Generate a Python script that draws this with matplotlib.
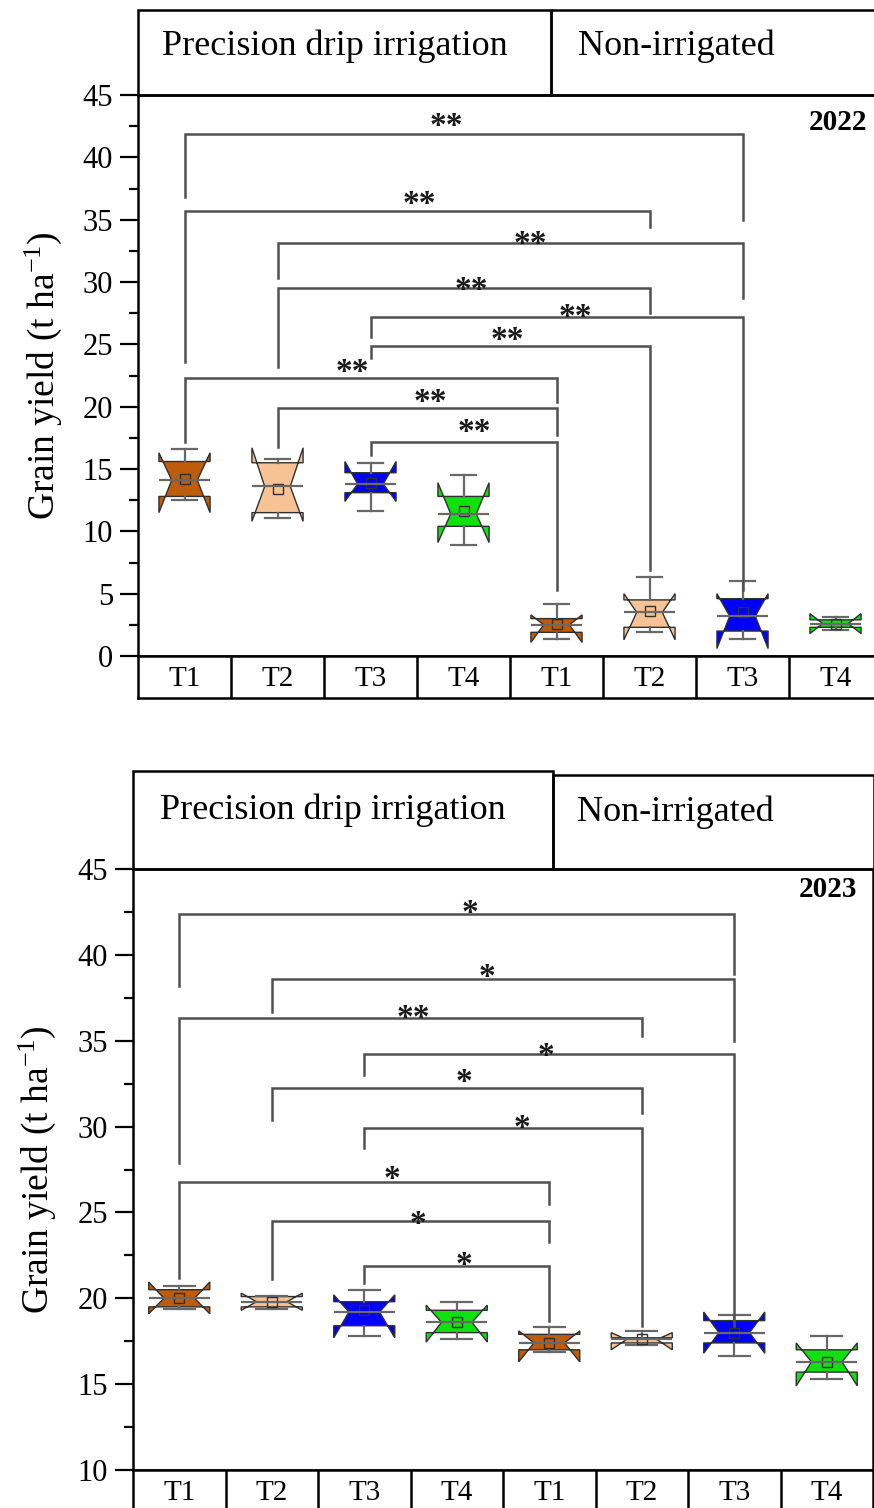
import numpy as np
import matplotlib.pyplot as plt
from matplotlib.patches import Rectangle
from matplotlib.ticker import MultipleLocator

plt.rcParams['font.family'] = ['Liberation Serif', 'DejaVu Serif']
plt.rcParams['mathtext.fontset'] = 'custom'
plt.rcParams['mathtext.rm'] = 'Liberation Serif'
plt.rcParams['mathtext.it'] = 'Liberation Serif:italic'
plt.rcParams['mathtext.bf'] = 'Liberation Serif:bold'

treatments = ['T1', 'T2', 'T3', 'T4', 'T1', 'T2', 'T3', 'T4']
box_colors = ['#BF5C0A', '#F7C395', '#0000FF', '#10E010'] * 2

# 2022 grain yield, box statistics (drip T1-T4, then non-irrigated T1-T4)
whislo_22 = [12.5, 11.1, 11.6, 8.9, 1.4, 1.9, 1.4, 2.1]
q1_22 = [12.8, 11.5, 13.1, 10.4, 1.9, 2.3, 2.0, 2.3]
med_22 = [14.1, 13.6, 13.8, 11.4, 2.5, 3.5, 3.2, 2.6]
q3_22 = [15.6, 15.5, 14.7, 12.8, 3.0, 4.5, 4.6, 2.9]
whishi_22 = [16.6, 15.8, 15.5, 14.5, 4.2, 6.3, 6.0, 3.1]
cilo_22 = [11.5, 10.8, 12.4, 9.1, 1.1, 1.3, 0.6, 1.8]
cihi_22 = [16.3, 16.7, 15.6, 13.9, 3.3, 5.0, 5.0, 3.4]
mean_22 = [14.2, 13.4, 13.9, 11.6, 2.6, 3.6, 3.5, 2.6]

# 2023 grain yield
whislo_23 = [19.4, 19.4, 17.8, 17.6, 16.9, 17.3, 16.65, 15.3]
q1_23 = [19.5, 19.5, 18.4, 18.0, 17.0, 17.4, 17.4, 15.7]
med_23 = [20.0, 19.8, 19.2, 18.6, 17.4, 17.6, 18.0, 16.3]
q3_23 = [20.5, 20.1, 19.8, 19.3, 17.9, 17.7, 18.7, 17.0]
whishi_23 = [20.7, 20.15, 20.5, 19.8, 18.3, 18.1, 19.0, 17.8]
cilo_23 = [19.1, 19.3, 17.7, 17.45, 16.3, 17.0, 16.8, 14.9]
cihi_23 = [20.95, 20.3, 20.2, 19.6, 18.1, 18.0, 19.2, 17.4]
mean_23 = [20.0, 19.8, 19.3, 18.6, 17.4, 17.6, 18.0, 16.3]

# significance brackets: group index pairs, bar height, leg ends, label
b22_left = [1, 1, 2, 2, 3, 3, 1, 2, 3]
b22_right = [7, 6, 7, 6, 7, 6, 5, 5, 5]
b22_top = [41.9, 35.7, 33.1, 29.5, 27.2, 24.9, 22.3, 19.9, 17.2]
b22_lend = [36.8, 23.6, 30.3, 23.2, 25.6, 23.9, 17.2, 16.8, 16.1]
b22_rend = [35.0, 34.4, 28.7, 27.5, 5.3, 6.9, 20.4, 17.7, 5.3]
b22_star_x = [3.82, 3.53, 4.72, 4.08, 5.20, 4.47, 2.80, 3.64, 4.12]
b22_star_y = [43.0, 36.8, 33.6, 29.9, 27.7, 25.9, 23.3, 20.9, 18.5]
b22_label = ['**'] * 9

b23_left = [1, 2, 1, 3, 2, 3, 1, 2, 3]
b23_right = [7, 7, 6, 7, 6, 6, 5, 5, 5]
b23_top = [42.4, 38.6, 36.3, 34.2, 32.25, 29.9, 26.8, 24.5, 21.9]
b23_lend = [38.2, 36.7, 27.9, 33.0, 30.4, 28.75, 21.2, 21.1, 20.9]
b23_rend = [38.9, 35.0, 35.3, 18.4, 30.8, 18.4, 25.5, 23.3, 18.7]
b23_star_x = [4.14, 4.33, 3.53, 4.96, 4.08, 4.71, 3.30, 3.58, 4.08]
b23_star_y = [42.8, 39.1, 36.7, 34.5, 33.0, 30.3, 27.3, 24.7, 22.3]
b23_label = ['*', '*', '**', '*', '*', '*', '*', '*', '*']

W, H = 874, 1508
fig = plt.figure(figsize=(W / 100, H / 100), dpi=100)

# overlay in pixel units for the header boxes
deco = fig.add_axes([0, 0, 1, 1], zorder=5)
deco.set_xlim(0, W)
deco.set_ylim(H, 0)
deco.axis('off')
deco.patch.set_visible(False)


def rect(x0, y0, x1, y1):
    return [x0 / W, 1 - y1 / H, (x1 - x0) / W, (y1 - y0) / H]


def panel(box, ylim, stats, brackets, star_xy, labels, year, year_xy, box_w, header, ylab_x):
    x0, y0, x1, y1 = box
    ax = fig.add_axes(rect(x0, y0, x1, y1))
    pos = np.arange(1, 9)
    whislo, q1, med, q3, whishi, cilo, cihi, mean = stats
    bstats = [dict(whislo=whislo[i], q1=q1[i], med=med[i], q3=q3[i], whishi=whishi[i],
                   cilo=cilo[i], cihi=cihi[i], mean=mean[i], fliers=[]) for i in range(8)]
    art = ax.bxp(bstats, positions=pos, widths=box_w, capwidths=box_w * 0.5,
                 shownotches=True, showmeans=True, showfliers=False, patch_artist=True,
                 boxprops=dict(linewidth=1.0, edgecolor='#303030'),
                 whiskerprops=dict(color='#686868', linewidth=1.6),
                 capprops=dict(color='#686868', linewidth=1.6),
                 medianprops=dict(visible=False),
                 meanprops=dict(marker='s', markersize=7, markerfacecolor='none',
                                markeredgecolor='#303030', markeredgewidth=1.0))
    for patch, c in zip(art['boxes'], box_colors):
        patch.set_facecolor(c)
    ax.hlines(med, pos - box_w * 0.5, pos + box_w * 0.5, colors='#686868', lw=1.6, zorder=3)

    # significance brackets
    left, right, top, lend, rend = brackets
    for l, r, t, le, re_ in zip(left, right, top, lend, rend):
        ax.plot([l, l, r, r], [le, t, t, re_], color='#505050', lw=1.8, zorder=4,
                solid_joinstyle='miter')
    for (sx, sy), lab in zip(zip(*star_xy), labels):
        ax.annotate(lab, (sx, sy), xytext=(0, -5), textcoords='offset points',
                    ha='center', va='center', fontsize=24, fontweight='bold',
                    color='#1a1a1a', zorder=6)

    ax.text(year_xy[0], year_xy[1], year, ha='center', va='center', fontsize=21,
            fontweight='bold')

    ax.set_xlim(0.5, 8.5)
    ax.set_ylim(*ylim)
    ax.set_yticks(np.arange(ylim[0], ylim[1] + 1, 5))
    ax.yaxis.set_minor_locator(MultipleLocator(2.5))
    ax.set_xticks([])
    ax.tick_params(axis='y', which='major', direction='out', length=13, width=1.6,
                   labelsize=22, pad=5)
    ax.tick_params(axis='y', which='minor', direction='out', length=6.5, width=1.6)
    for s in ax.spines.values():
        s.set_linewidth(1.8)
    ax.set_ylabel('Grain yield (t ha$^{-1}$)', fontsize=27)
    ax.yaxis.set_label_coords(ylab_x, 0.5)

    # treatment row under the plot
    row = fig.add_axes(rect(x0, y1, x1, y1 + 42))
    row.set_xlim(0.5, 8.5)
    row.set_ylim(0, 1)
    row.set_xticks([])
    row.set_yticks([])
    for s in row.spines.values():
        s.set_linewidth(1.8)
    for xb in np.arange(1.5, 8.5, 1):
        row.axvline(xb, color='black', lw=1.8)
    for p, t in zip(pos, treatments):
        row.text(p, 0.45, t, ha='center', va='center', fontsize=21)

    # header boxes
    (lx0, ly0, split, rx1, ry0, hb), (ltx, lty, rtx, rty) = header
    deco.add_patch(Rectangle((lx0, ly0), split - lx0, hb - ly0, fill=False, lw=1.8,
                             edgecolor='black'))
    deco.add_patch(Rectangle((split, ry0), rx1 - split, hb - ry0, fill=False, lw=1.8,
                             edgecolor='black'))
    deco.text(ltx, lty, 'Precision drip irrigation', ha='left', va='center', fontsize=26)
    deco.text(rtx, rty, 'Non-irrigated', ha='left', va='center', fontsize=26)
    return ax


panel((138, 95, 882, 656), (0, 45),
      (whislo_22, q1_22, med_22, q3_22, whishi_22, cilo_22, cihi_22, mean_22),
      (b22_left, b22_right, b22_top, b22_lend, b22_rend),
      (b22_star_x, b22_star_y), b22_label, '2022', (8.03, 42.8), 0.55,
      ((138, 10, 551, 882, 10, 95), (162, 46, 578, 46)), -0.100)

panel((133, 869, 873, 1470), (10, 45),
      (whislo_23, q1_23, med_23, q3_23, whishi_23, cilo_23, cihi_23, mean_23),
      (b23_left, b23_right, b23_top, b23_lend, b23_rend),
      (b23_star_x, b23_star_y), b23_label, '2023', (8.01, 43.8), 0.66,
      ((133, 771, 553, 874, 775, 869), (160, 810, 577, 812)), -0.101)

fig.savefig('out.png', dpi=100)
